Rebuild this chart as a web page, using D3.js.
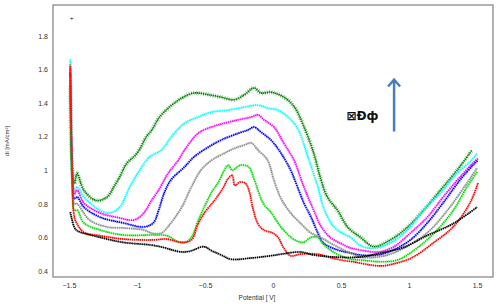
<!DOCTYPE html>
<html>
<head>
<meta charset="utf-8">
<script src="https://cdn.jsdelivr.net/npm/d3@7"></script>
<style>
  body { margin: 0; background: #fff; }
  svg { display: block; font-family: "Liberation Sans", Arial, sans-serif; }
</style>
</head>
<body>
<div id="chart"></div>
<script>
// values: [potential V, current mA/cm2]
const darkGreen = [[-1.49,1.5],[-1.475,1.0],[-1.46,0.92],[-1.44,0.98],[-1.39,0.88],[-1.3,0.82],[-1.22,0.84],[-1.17,0.9],[-1.127,0.96],[-1.075,1.04],[-1.0,1.1],[-0.93,1.2],[-0.89,1.24],[-0.84,1.31],[-0.77,1.37],[-0.67,1.43],[-0.58,1.46],[-0.475,1.45],[-0.38,1.435],[-0.285,1.42],[-0.21,1.45],[-0.14,1.49],[-0.088,1.46],[-0.015,1.465],[0.08,1.435],[0.154,1.38],[0.227,1.26],[0.3,1.1],[0.35,0.95],[0.4,0.84],[0.475,0.76],[0.55,0.66],[0.644,0.6],[0.74,0.545],[0.863,0.585],[0.988,0.66],[1.105,0.76],[1.23,0.88],[1.353,1.0],[1.463,1.12]];
const cyan = [[-1.49,1.66],[-1.475,1.0],[-1.46,0.88],[-1.44,0.9],[-1.39,0.84],[-1.27,0.76],[-1.2,0.745],[-1.127,0.78],[-1.053,0.9],[-0.98,1.0],[-0.907,1.08],[-0.82,1.12],[-0.746,1.2],[-0.65,1.28],[-0.55,1.317],[-0.454,1.346],[-0.33,1.358],[-0.21,1.376],[-0.11,1.388],[-0.04,1.37],[0.037,1.358],[0.11,1.317],[0.18,1.25],[0.26,1.07],[0.33,0.9],[0.37,0.78],[0.44,0.67],[0.52,0.62],[0.57,0.6],[0.644,0.55],[0.74,0.535],[0.863,0.567],[0.988,0.644],[1.105,0.763],[1.23,0.864],[1.353,0.983],[1.448,1.05],[1.5,1.1]];
const magenta = [[-1.49,1.6],[-1.475,1.0],[-1.46,0.86],[-1.44,0.88],[-1.39,0.805],[-1.27,0.745],[-1.15,0.72],[-1.02,0.704],[-0.95,0.745],[-0.89,0.823],[-0.84,0.882],[-0.77,0.983],[-0.695,1.06],[-0.65,1.12],[-0.55,1.22],[-0.454,1.257],[-0.358,1.28],[-0.256,1.3],[-0.16,1.317],[-0.11,1.329],[-0.066,1.3],[0.007,1.257],[0.08,1.16],[0.154,1.06],[0.227,0.9],[0.3,0.76],[0.35,0.67],[0.42,0.6],[0.52,0.555],[0.57,0.537],[0.64,0.525],[0.77,0.513],[0.885,0.543],[1.01,0.626],[1.134,0.72],[1.25,0.84],[1.375,0.96],[1.47,1.043],[1.507,1.07]];
const blue = [[-1.49,1.58],[-1.475,0.95],[-1.46,0.83],[-1.44,0.84],[-1.39,0.78],[-1.27,0.72],[-1.1,0.686],[-0.95,0.662],[-0.88,0.686],[-0.84,0.763],[-0.8,0.864],[-0.75,0.942],[-0.65,1.02],[-0.58,1.08],[-0.475,1.138],[-0.38,1.18],[-0.256,1.22],[-0.183,1.24],[-0.14,1.257],[-0.088,1.227],[-0.015,1.18],[0.06,1.1],[0.13,1.0],[0.18,0.9],[0.227,0.805],[0.28,0.72],[0.33,0.626],[0.37,0.567],[0.475,0.525],[0.57,0.507],[0.64,0.495],[0.77,0.495],[0.885,0.525],[1.01,0.585],[1.134,0.686],[1.25,0.805],[1.375,0.942],[1.47,1.03],[1.507,1.06]];
const gray = [[-1.49,1.63],[-1.475,0.95],[-1.46,0.8],[-1.44,0.8],[-1.35,0.704],[-1.22,0.662],[-1.1,0.656],[-0.95,0.644],[-0.89,0.625],[-0.82,0.626],[-0.75,0.686],[-0.67,0.781],[-0.6,0.9],[-0.53,1.0],[-0.45,1.06],[-0.36,1.1],[-0.285,1.13],[-0.21,1.15],[-0.16,1.162],[-0.11,1.12],[-0.04,1.06],[0.007,0.94],[0.06,0.83],[0.13,0.745],[0.2,0.686],[0.28,0.626],[0.35,0.6],[0.42,0.567],[0.52,0.525],[0.57,0.507],[0.64,0.483],[0.77,0.483],[0.885,0.507],[1.03,0.567],[1.156,0.644],[1.3,0.78],[1.426,0.924],[1.5,1.013]];
const green = [[-1.49,1.54],[-1.475,0.9],[-1.46,0.76],[-1.44,0.763],[-1.39,0.686],[-1.27,0.644],[-1.1,0.614],[-0.88,0.614],[-0.78,0.61],[-0.7,0.575],[-0.65,0.57],[-0.6,0.6],[-0.55,0.7],[-0.5,0.79],[-0.45,0.87],[-0.4,0.93],[-0.33,1.03],[-0.3,1.0],[-0.24,1.03],[-0.18,1.02],[-0.14,0.95],[-0.07,0.8],[-0.015,0.75],[0.06,0.66],[0.15,0.59],[0.22,0.57],[0.28,0.6],[0.33,0.6],[0.37,0.56],[0.45,0.51],[0.57,0.47],[0.644,0.465],[0.79,0.455],[0.914,0.465],[1.031,0.52],[1.178,0.62],[1.324,0.76],[1.426,0.9],[1.5,0.99]];
const red = [[-1.49,1.62],[-1.475,0.95],[-1.46,0.72],[-1.44,0.68],[-1.39,0.63],[-1.27,0.61],[-1.1,0.59],[-0.88,0.585],[-0.78,0.59],[-0.67,0.57],[-0.6,0.585],[-0.55,0.68],[-0.5,0.75],[-0.43,0.82],[-0.37,0.89],[-0.33,0.95],[-0.3,0.97],[-0.28,0.91],[-0.24,0.93],[-0.2,0.92],[-0.17,0.86],[-0.15,0.78],[-0.11,0.68],[-0.07,0.645],[0.0,0.625],[0.037,0.6],[0.08,0.535],[0.13,0.49],[0.2,0.5],[0.33,0.5],[0.42,0.48],[0.5,0.465],[0.59,0.454],[0.79,0.43],[0.914,0.448],[1.031,0.483],[1.178,0.567],[1.324,0.662],[1.448,0.805],[1.507,0.924]];
const black = [[-1.49,0.75],[-1.46,0.66],[-1.44,0.64],[-1.27,0.6],[-1.1,0.57],[-0.9,0.555],[-0.82,0.543],[-0.67,0.513],[-0.6,0.52],[-0.51,0.545],[-0.45,0.52],[-0.38,0.495],[-0.31,0.47],[-0.16,0.477],[-0.02,0.49],[0.06,0.5],[0.2,0.513],[0.3,0.495],[0.45,0.483],[0.64,0.483],[0.79,0.507],[0.958,0.54],[1.13,0.61],[1.32,0.68],[1.5,0.78]];
const outliers = [[-1.48,1.905]];

const seriesList = [
  { data: darkGreen, color: "#008000", w: 4.2 },
  { data: cyan, color: "#00ffff", w: 3 },
  { data: magenta, color: "#ff00ff", w: 2.8 },
  { data: blue, color: "#0000ff", w: 2.8 },
  { data: gray, color: "#8c8c8c", w: 2.8 },
  { data: green, color: "#00e000", w: 2.6 },
  { data: red, color: "#ff0000", w: 2.4 },
  { data: black, color: "#000000", w: 2.4 }
];

const yTicks = [0.4, 0.6, 0.8, 1, 1.2, 1.4, 1.6, 1.8];
const xTicks = [-1.5, -1, -0.5, 0, 0.5, 1, 1.5];

const width = 500, height = 304;
const margin = { left: 53, right: 7, top: 5, bottom: 27 };

const svg = d3.select("#chart").append("svg")
  .attr("width", width)
  .attr("height", height);

const x = d3.scaleLinear().domain([-1.617, 1.617]).range([margin.left, width - margin.right]);
const y = d3.scaleLinear().domain([0.364, 1.984]).range([height - margin.bottom, margin.top]);

const line = d3.line()
  .x(d => x(d[0]))
  .y(d => y(d[1]))
  .curve(d3.curveCatmullRom.alpha(0.5));

const plot = svg.append("g");

seriesList.forEach(s => {
  // faint band for the scatter spread, then the dense core
  plot.append("path")
    .attr("d", line(s.data))
    .attr("fill", "none")
    .attr("stroke", s.color)
    .attr("stroke-width", s.w)
    .attr("stroke-dasharray", "0.8 1.6")
    .attr("opacity", 0.5);
  plot.append("path")
    .attr("d", line(s.data))
    .attr("fill", "none")
    .attr("stroke", s.color)
    .attr("stroke-width", 1.6)
    .attr("stroke-dasharray", "1.4 0.6");
});

plot.selectAll(".outlier")
  .data(outliers)
  .join("text")
  .attr("class", "outlier")
  .attr("x", d => x(d[0]))
  .attr("y", d => y(d[1]) + 2)
  .attr("text-anchor", "middle")
  .style("font-size", "6px")
  .text("+");

// frame
svg.append("rect")
  .attr("x", margin.left)
  .attr("y", margin.top)
  .attr("width", width - margin.left - margin.right)
  .attr("height", height - margin.top - margin.bottom)
  .attr("fill", "none")
  .attr("stroke", "#8a8a8a")
  .attr("stroke-width", 1.3);

const yAxis = svg.append("g")
  .attr("transform", `translate(${margin.left},0)`)
  .call(d3.axisLeft(y).tickValues(yTicks).tickSize(0).tickPadding(5).tickFormat(d3.format("")));
const xAxis = svg.append("g")
  .attr("transform", `translate(0,${height - margin.bottom})`)
  .call(d3.axisBottom(x).tickValues(xTicks).tickSize(0).tickPadding(6).tickFormat(d3.format("")));

[yAxis, xAxis].forEach(a => {
  a.select(".domain").remove();
  a.selectAll("text")
    .attr("fill", "#333")
    .style("font-size", "7px")
    .style("font-family", "'Liberation Sans', Arial, sans-serif");
});

svg.append("text")
  .attr("transform", `translate(9,${(margin.top + height - margin.bottom) / 2}) rotate(-90)`)
  .attr("text-anchor", "middle")
  .attr("fill", "#333")
  .style("font-size", "6px")
  .text("di [mA/cm²]");

svg.append("text")
  .attr("x", 257)
  .attr("y", 300)
  .attr("text-anchor", "middle")
  .attr("fill", "#333")
  .style("font-size", "6.5px")
  .text("Potential [ V]");

// annotation
svg.append("text")
  .attr("x", x(0.54))
  .attr("y", y(1.3))
  .style("font-size", "12px")
  .style("font-weight", "bold")
  .style("font-family", "'DejaVu Sans', sans-serif")
  .attr("fill", "#111")
  .text("⊠Ðф");

const ax = x(0.89);
svg.append("path")
  .attr("d", `M${ax},${y(1.23)}V${y(1.54)}M${ax - 6},${y(1.54) + 7}L${ax},${y(1.54)}L${ax + 6},${y(1.54) + 7}`)
  .attr("fill", "none")
  .attr("stroke", "#4a7ebb")
  .attr("stroke-width", 2.5);
</script>
</body>
</html>
